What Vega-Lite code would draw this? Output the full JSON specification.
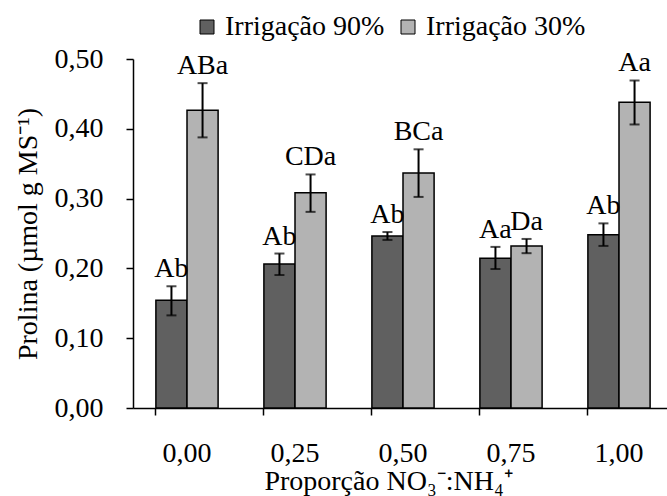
{
  "$schema": "https://vega.github.io/schema/vega-lite/v6.json",
  "autosize": "none",
  "width": 534,
  "height": 349,
  "padding": {"left": 133, "top": 59, "right": 0, "bottom": 88},
  "background": "white",
  "config": {
    "font": "Liberation Serif",
    "view": {"stroke": null},
    "axis": {"grid": false, "domainColor": "black", "tickColor": "black", "labelColor": "black", "titleColor": "black", "labelFont": "Liberation Serif", "titleFont": "Liberation Serif", "labelFontSize": 28, "titleFontSize": 28, "titleFontWeight": "normal", "domainWidth": 1.5, "tickWidth": 1.5},
    "legend": {"labelFont": "Liberation Serif", "labelFontSize": 28, "labelColor": "black", "padding": 0}
  },
  "data": {
    "values": [
      {"prop": "0,00", "grupo": "Irrigação 90%", "media": 0.1545, "lo": 0.1327, "hi": 0.1744, "letra": "Ab"},
      {"prop": "0,00", "grupo": "Irrigação 30%", "media": 0.4265, "lo": 0.3877, "hi": 0.4654, "letra": "ABa"},
      {"prop": "0,25", "grupo": "Irrigação 90%", "media": 0.2062, "lo": 0.1905, "hi": 0.2213, "letra": "Ab"},
      {"prop": "0,25", "grupo": "Irrigação 30%", "media": 0.3085, "lo": 0.2810, "hi": 0.3346, "letra": "CDa"},
      {"prop": "0,50", "grupo": "Irrigação 90%", "media": 0.2464, "lo": 0.2408, "hi": 0.2521, "letra": "Ab"},
      {"prop": "0,50", "grupo": "Irrigação 30%", "media": 0.3365, "lo": 0.3024, "hi": 0.3706, "letra": "BCa"},
      {"prop": "0,75", "grupo": "Irrigação 90%", "media": 0.2147, "lo": 0.1991, "hi": 0.2308, "letra": "Aa"},
      {"prop": "0,75", "grupo": "Irrigação 30%", "media": 0.2322, "lo": 0.2218, "hi": 0.2422, "letra": "Da"},
      {"prop": "1,00", "grupo": "Irrigação 90%", "media": 0.2483, "lo": 0.2322, "hi": 0.2645, "letra": "Ab"},
      {"prop": "1,00", "grupo": "Irrigação 30%", "media": 0.4379, "lo": 0.4062, "hi": 0.4692, "letra": "Aa"}
    ]
  },
  "encoding": {
    "x": {"field": "prop", "type": "nominal", "sort": null,
      "scale": {"paddingInner": 0.424, "paddingOuter": 0.212, "range": [0, 540]},
      "axis": {"title": "Proporção NO₃⁻:NH₄⁺", "labelAngle": 0, "bandPosition": 0, "tickSize": 7, "labelPadding": 24, "titlePadding": 0, "titleX": 255, "labelAlign": "center"}},
    "xOffset": {"field": "grupo", "type": "nominal", "sort": ["Irrigação 90%", "Irrigação 30%"], "scale": {"paddingInner": 0, "paddingOuter": 0}}
  },
  "layer": [
    {
      "mark": {"type": "bar", "stroke": "black", "strokeWidth": 1.5},
      "encoding": {
        "y": {"field": "media", "type": "quantitative",
          "scale": {"domain": [0, 0.5], "nice": false},
          "axis": {"title": "Prolina (µmol g MS⁻¹)", "values": [0, 0.1, 0.2, 0.3, 0.4, 0.5], "format": ".2f", "labelExpr": "replace(datum.label, '.', ',')", "tickSize": 7, "labelPadding": 23, "titlePadding": 12}},
        "color": {"field": "grupo", "type": "nominal",
          "scale": {"domain": ["Irrigação 90%", "Irrigação 30%"], "range": ["#606060", "#b3b3b3"]},
          "legend": {"title": null, "orient": "none", "direction": "horizontal", "legendX": 60, "legendY": -46, "symbolType": "square", "symbolSize": 196, "symbolStrokeColor": "black", "symbolStrokeWidth": 1, "symbolOpacity": 1, "labelOffset": 4, "columnPadding": 9}}
      }
    },
    {
      "mark": {"type": "rule", "color": "black", "strokeWidth": 2},
      "encoding": {"y": {"field": "lo", "type": "quantitative"}, "y2": {"field": "hi"}}
    },
    {
      "mark": {"type": "tick", "color": "black", "thickness": 2, "size": 10, "orient": "horizontal"},
      "encoding": {"y": {"field": "lo", "type": "quantitative"}}
    },
    {
      "mark": {"type": "tick", "color": "black", "thickness": 2, "size": 10, "orient": "horizontal"},
      "encoding": {"y": {"field": "hi", "type": "quantitative"}}
    },
    {
      "mark": {"type": "text", "fontSize": 28, "baseline": "alphabetic", "dy": -9, "color": "black", "font": "Liberation Serif"},
      "encoding": {"y": {"field": "hi", "type": "quantitative"}, "text": {"field": "letra"}}
    }
  ]
}
